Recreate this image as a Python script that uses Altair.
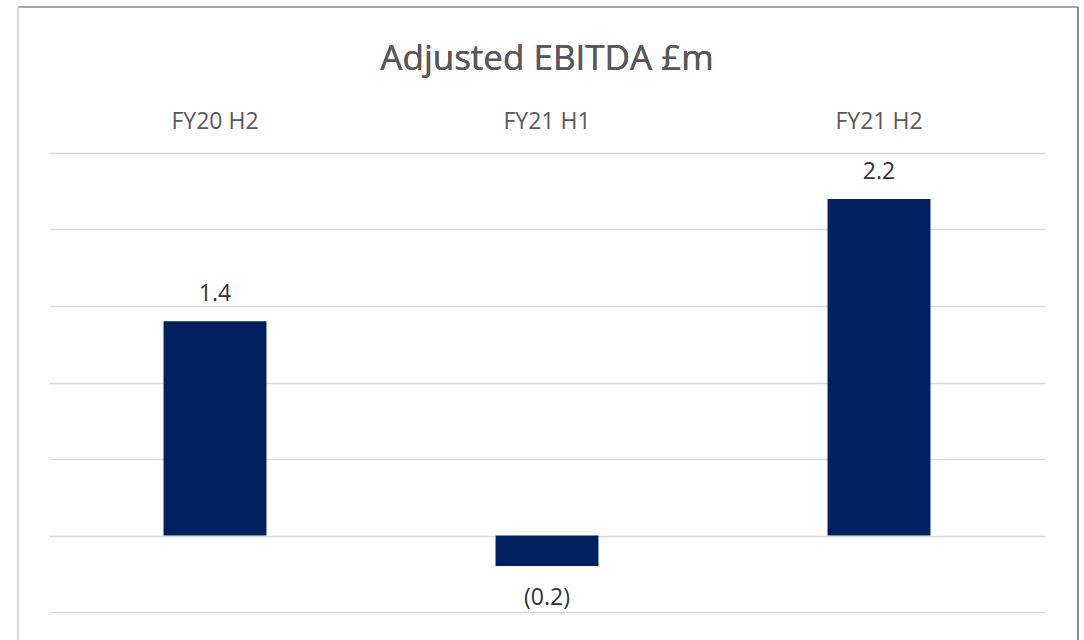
import altair as alt
import pandas as pd

# Adjusted EBITDA by half-year, £m
periods = ["FY20 H2", "FY21 H1", "FY21 H2"]
ebitda = [1.4, -0.2, 2.2]
labels = ["1.4", "(0.2)", "2.2"]

df = pd.DataFrame({"period": periods, "value": ebitda, "label": labels})

FONT = "Open Sans"
BAR = "#002060"
GRID = "#d9d9d9"

x_enc = alt.X(
    "period:N",
    sort=periods,
    scale=alt.Scale(paddingInner=0.69, paddingOuter=0.345),
    axis=alt.Axis(
        orient="top", title=None, domain=False, ticks=False, labelAngle=0,
        labelFont=FONT, labelFontSize=23, labelColor="#595959",
        labelBaseline="alphabetic", labelPadding=25,
    ),
)
y_enc = alt.Y(
    "value:Q",
    scale=alt.Scale(domain=[-0.5, 2.5], nice=False),
    axis=alt.Axis(
        title=None, labels=False, ticks=False, domain=False,
        values=[-0.5, 0, 0.5, 1.0, 1.5, 2.0, 2.5],
        grid=True, gridColor=GRID, gridWidth=1.6,
    ),
)

base = alt.Chart(df)

bars = base.mark_bar(color=BAR).encode(x=x_enc, y=y_enc, y2=alt.datum(0))

pos_labels = base.transform_filter("datum.value >= 0").mark_text(
    font=FONT, fontSize=23, color="#333333", baseline="alphabetic", dy=-20
).encode(x=alt.X("period:N", sort=periods), y="value:Q", text="label:N")

neg_labels = base.transform_filter("datum.value < 0").mark_text(
    font=FONT, fontSize=23, color="#333333", baseline="alphabetic", dy=39
).encode(x=alt.X("period:N", sort=periods), y="value:Q", text="label:N")

title = base.mark_text(
    font=FONT, fontSize=35, color="#595959", baseline="alphabetic", align="center"
).encode(x=alt.value(498), y=alt.value(-83), text=alt.value("Adjusted EBITDA £m"))

# outer frame of the chart box
frame_top = base.mark_rule(color="#a6a6a6", strokeWidth=1.5).encode(
    x=alt.value(-31), x2=alt.value(1029), y=alt.value(-146)
)
frame_left = base.mark_rule(color="#d9d9d9", strokeWidth=1.5).encode(
    x=alt.value(-31), y=alt.value(-146), y2=alt.value(500)
)
frame_right = base.mark_rule(color="#8c8c8c", strokeWidth=2).encode(
    x=alt.value(1029), y=alt.value(-146), y2=alt.value(500)
)

chart = (
    alt.layer(frame_top, frame_left, frame_right, bars, pos_labels, neg_labels, title)
    .properties(
        width=996,
        height=459,
        autosize=alt.AutoSizeParams(type="none"),
        padding={"left": 49, "top": 153, "right": 39, "bottom": 28},
        background="white",
    )
    .configure_view(stroke=None)
)

chart.save("out.html", embed_options={"renderer": "svg", "actions": False})
